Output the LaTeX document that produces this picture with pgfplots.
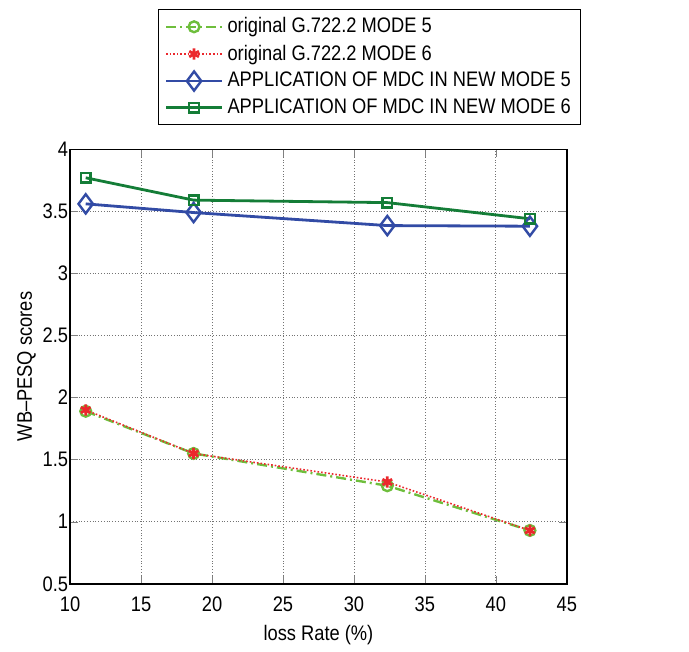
\documentclass[border=0pt]{standalone}
\usepackage{fontspec}
\setmainfont{Liberation Sans}[FakeStretch=0.87]
\usepackage{pgfplots}
\pgfplotsset{compat=1.18}

\definecolor{lgreen}{RGB}{110,190,60}
\definecolor{mred}{RGB}{235,40,45}
\definecolor{mblue}{RGB}{50,75,165}
\definecolor{dgreen}{RGB}{20,125,55}

\begin{document}
\begin{tikzpicture}[font=\fontsize{10.5}{12.5}\selectfont]
  \begin{axis}[
    scale only axis,
    width=248pt,
    height=217pt,
    xmin=10, xmax=45,
    ymin=0.5, ymax=4,
    xtick={10,15,...,45},
    ytick={0.5,1,...,4},
    yticklabel style={/pgf/number format/fixed, xshift=2.5pt},
    xticklabel style={yshift=-3pt},
    /pgf/number format/assume math mode=true,
    tick align=inside,
    major tick length=4pt,
    grid=major,
    grid style={densely dotted, black!55, line width=0.4pt},
    axis line style={line width=0.7pt},
    xlabel={loss Rate (\%)},
    ylabel={WB–PESQ scores},
    xlabel style={yshift=0pt},
    ylabel style={yshift=-3.5pt},
    legend cell align=left,
    legend style={at={(0.177,1)}, anchor=south west, yshift=12pt,
      draw=black, line width=0.6pt, inner xsep=3pt, inner ysep=2pt,
      row sep=0.5pt,
      font=\fontsize{10.5}{12.5}\selectfont},
    legend image code/.code={%
      \draw[mark repeat=2,mark phase=2] plot coordinates {(0pt,0pt) (14pt,0pt) (28pt,0pt)};},
  ]
    \addplot[color=lgreen, line width=1.2pt, dash pattern=on 5pt off 2pt on 1pt off 2pt,
      mark=o, mark size=2.7pt, mark options={solid, line width=1.2pt}]
      coordinates {(11.1,1.89) (18.7,1.55) (32.35,1.29) (42.4,0.93)};
    \addlegendentry{original G.722.2 MODE 5}
    \addplot[color=mred, line width=0.8pt, densely dotted,
      mark=asterisk, mark size=2.8pt, mark options={solid, line width=1.4pt}]
      coordinates {(11.1,1.90) (18.7,1.55) (32.35,1.32) (42.4,0.93)};
    \addlegendentry{original G.722.2 MODE 6}
    \addplot[color=mblue, line width=1.4pt,
      mark=diamond, mark size=4.8pt, mark options={solid, line width=1.2pt}]
      coordinates {(11.1,3.56) (18.7,3.49) (32.35,3.385) (42.4,3.38)};
    \addlegendentry{APPLICATION OF MDC IN NEW MODE 5}
    \addplot[color=dgreen, line width=1.4pt,
      mark=square, mark size=2.4pt, mark options={solid, line width=1.2pt}]
      coordinates {(11.1,3.77) (18.7,3.59) (32.35,3.57) (42.4,3.44)};
    \addlegendentry{APPLICATION OF MDC IN NEW MODE 6}
    \coordinate (sw) at (rel axis cs:0,0);
    \coordinate (ne) at (rel axis cs:1,1);
  \end{axis}
  \path (sw) ++(-35pt,-30pt);
  \path (ne) ++(61pt,74.5pt);
\end{tikzpicture}
\end{document}
